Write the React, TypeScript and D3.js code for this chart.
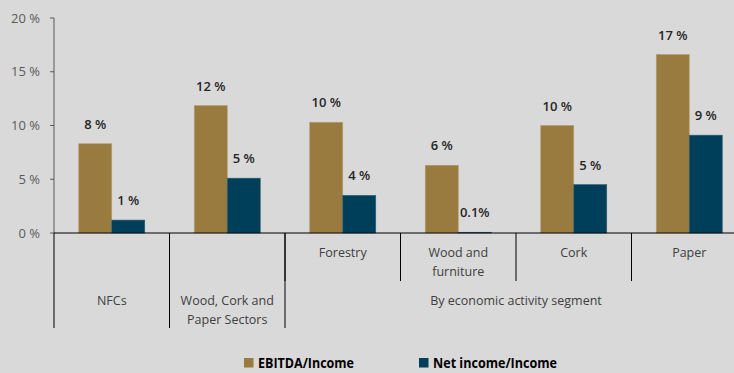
import React from "react";
import * as d3 from "d3";

const categories = ["NFCs", "Wood, Cork and Paper Sectors", "Forestry", "Wood and furniture", "Cork", "Paper"];
const categoryLines = [[], [], ["Forestry"], ["Wood and", "furniture"], ["Cork"], ["Paper"]];
const groupLabels = [
  { lines: ["NFCs"], from: 0, to: 0 },
  { lines: ["Wood, Cork and", "Paper Sectors"], from: 1, to: 1 },
  { lines: ["By economic activity segment"], from: 2, to: 5 },
];
const seriesNames = ["EBITDA/Income", "Net income/Income"];
const ebitda = [8.3, 11.85, 10.3, 6.3, 10.0, 16.6];
const netIncome = [1.2, 5.1, 3.5, 0.07, 4.5, 9.1];
const ebitdaLabels = ["8 %", "12 %", "10 %", "6 %", "10 %", "17 %"];
const netLabels = ["1 %", "5 %", "4 %", "0.1%", "5 %", "9 %"];
const yTicks = [0, 5, 10, 15, 20];
const colors = ["#9a7b3f", "#003f5a"];

const W = 734;
const H = 373;
const FONT = "'Open Sans', sans-serif";

export default function App() {
  const x0 = d3.scaleBand<string>().domain(categories).range([54, 747]).paddingInner(0).paddingOuter(0);
  const x1 = d3.scaleBand<string>().domain(seriesNames).range([0, x0.bandwidth()]).paddingInner(0).paddingOuter(0.75);
  const y = d3.scaleLinear().domain([0, 20]).range([233, 18]);
  const values = [ebitda, netIncome];
  const labels = [ebitdaLabels, netLabels];
  const y0 = y(0);

  return (
    <svg width={W} height={H} style={{ position: "absolute", left: 0, top: 0, background: "#d9d9d9" }} fontFamily={FONT}>
      <rect x={0} y={0} width={W} height={H} fill="#d9d9d9" />
      {/* y axis */}
      <line x1={54} x2={54} y1={y(20)} y2={y0} stroke="#595959" strokeWidth={1} />
      {yTicks.map((t) => (
        <g key={t}>
          <line x1={50} x2={54} y1={y(t)} y2={y(t)} stroke="#595959" />
          <text x={40} y={y(t)} dy="0.35em" textAnchor="end" fontSize={13} fill="#595959">
            {t} %
          </text>
        </g>
      ))}
      {/* bars */}
      {categories.map((c, i) => (
        <g key={c} transform={`translate(${x0(c)},0)`}>
          {seriesNames.map((s, j) => {
            const v = values[j][i];
            const bx = x1(s)!;
            return (
              <g key={s}>
                <rect x={bx} y={y(v)} width={x1.bandwidth()} height={y0 - y(v)} fill={colors[j]}
                  stroke={j === 0 ? "#b39b6b" : "#2f5f73"} strokeWidth={0.6} />
                <text x={bx + x1.bandwidth() / 2} y={y(v) - 15} textAnchor="middle" fontSize={13}
                  fontWeight={600} fill="#262626">
                  {labels[j][i]}
                </text>
              </g>
            );
          })}
        </g>
      ))}
      {/* x axis */}
      <line x1={54} x2={W} y1={y0} y2={y0} stroke="#000" strokeWidth={1.2} />
      {/* long separators */}
      {groupLabels.map((g) => (
        <line key={g.from} x1={x0(categories[g.from])!} x2={x0(categories[g.from])!} y1={y0} y2={328}
          stroke="#000" strokeWidth={1} />
      ))}
      {/* short separators and sub-labels */}
      {categories.map((c, i) =>
        categoryLines[i].length ? (
          <g key={c}>
            <line x1={x0(c)!} x2={x0(c)!} y1={y0} y2={281} stroke="#000" strokeWidth={1} />
            {categoryLines[i].map((ln, k) => (
              <text key={k} x={x0(c)! + x0.bandwidth() / 2} y={253 + k * 18.5} dy="0.35em" textAnchor="middle"
                fontSize={12.5} fill="#404040">
                {ln}
              </text>
            ))}
          </g>
        ) : null
      )}
      {groupLabels.map((g) => {
        const cx = (x0(categories[g.from])! + x0(categories[g.to])! + x0.bandwidth()) / 2;
        return g.lines.map((ln, k) => (
          <text key={g.from + "-" + k} x={cx} y={301 + k * 18.5} dy="0.35em" textAnchor="middle"
            fontSize={12.5} fill="#404040">
            {ln}
          </text>
        ));
      })}
      {/* legend */}
      {seriesNames.map((s, j) => {
        const lx = [244, 419][j];
        return (
          <g key={s}>
            <rect x={lx} y={358} width={9.5} height={9.5} fill={colors[j]} />
            <text x={lx + 14} y={363} dy="0.35em" fontSize={14} fontWeight={700} fill="#000"
              textLength={[96, 124][j]} lengthAdjust="spacingAndGlyphs">
              {s}
            </text>
          </g>
        );
      })}
    </svg>
  );
}
